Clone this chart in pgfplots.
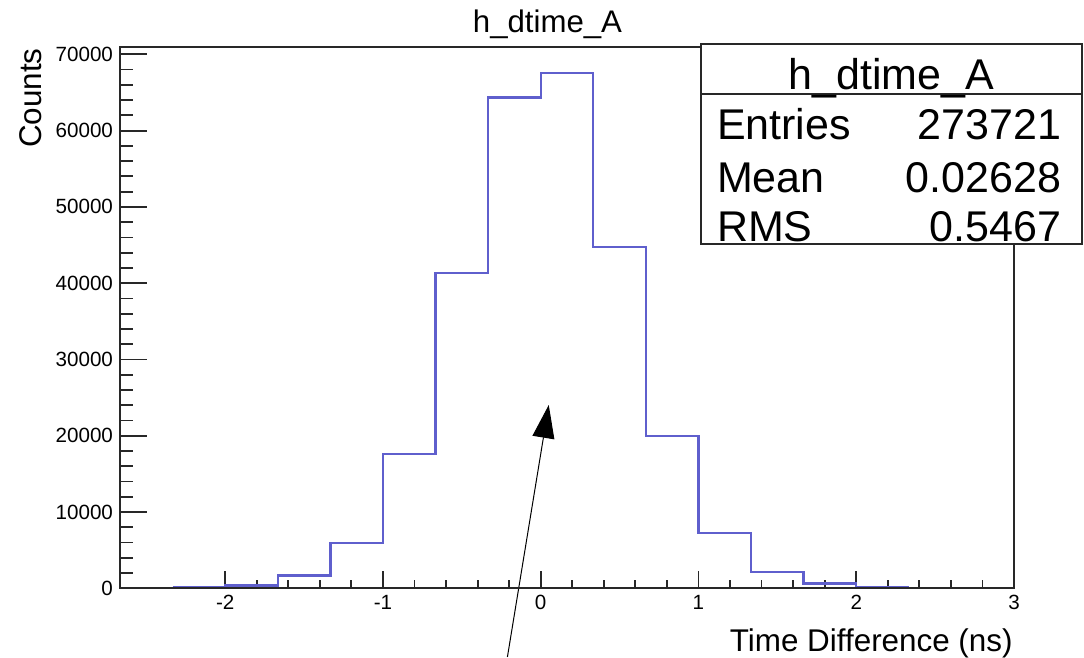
\documentclass[border=0pt]{standalone}
\usepackage{fontspec}
\setmainfont{Liberation Sans}
\usepackage{pgfplots}
\pgfplotsset{compat=1.18}
\usetikzlibrary{arrows.meta}
\definecolor{histblue}{RGB}{95,95,205}
\definecolor{axgray}{RGB}{40,40,40}
\begin{document}
\begin{tikzpicture}
\pgfplotsset{
 rootaxis/.style={
  scale only axis, width=447pt, height=270.8pt,
  at={(0,0)}, anchor=south west,
  xmin=-2.6667, xmax=3, ymin=0, ymax=71000,
  axis line style={line width=0.9pt, axgray},
  tick style={line width=0.9pt, axgray},
  tick align=inside, tick pos=left,
  ticklabel style={font=\fontsize{10.3}{12}\selectfont},
  /pgf/number format/assume math mode=true,
 }
}
\begin{axis}[rootaxis, ytick=\empty, xtick={-2,-1,0,1,2,3}, minor x tick num=4,
  major tick length=8.5pt, minor tick length=4pt, clip=false]
\addplot[const plot mark left, histblue, line width=1.2pt, mark=none] coordinates {
(-2.3333,170) (-2.0,350) (-1.6667,1670) (-1.3333,5940) (-1.0,17600)
(-0.6667,41330) (-0.3333,64360) (0,67585) (0.3333,44740) (0.6667,19960)
(1.0,7250) (1.3333,2140) (1.6667,620) (2.0,170) (2.3333,170)
};
\draw[line width=0.5pt, -{Triangle[length=16.5pt,width=11pt]}] (axis cs:-0.211,-9005) -- (axis cs:0.051,24030);
\end{axis}
\begin{axis}[rootaxis, xtick=\empty, ytick={0,10000,...,70000}, minor y tick num=4,
  major tick length=13.3pt, minor tick length=6.5pt, scaled y ticks=false,
  yticklabel style={/pgf/number format/fixed, /pgf/number format/1000 sep={}}]
\end{axis}
\node[anchor=base, font=\fontsize{15.6}{18}\selectfont, inner sep=0] at (213.75pt,277.65pt) {h\_dtime\_A};
\node[anchor=base east, rotate=90, font=\fontsize{15.7}{18}\selectfont, inner sep=0] at (-39pt,270.15pt) {Counts};
\node[anchor=base east, font=\fontsize{15.7}{18}\selectfont, inner sep=0] at (446.5pt,-31.7pt) {Time Difference (ns)};
\draw[line width=0.8pt, axgray, fill=white] (290.5pt,172.15pt) rectangle (481pt,272.15pt);
\draw[line width=0.8pt, axgray] (290.5pt,247.15pt) -- (481pt,247.15pt);
\begin{scope}[every node/.style={font=\fontsize{21.5}{26}\selectfont, inner sep=0}]
\node[anchor=base] at (385.75pt,249.5pt) {h\_dtime\_A};
\node[anchor=base west] at (298.3pt,224.15pt) {Entries};
\node[anchor=base east] at (470.8pt,224.15pt) {273721};
\node[anchor=base west] at (298.3pt,198pt) {Mean};
\node[anchor=base east] at (470.8pt,198pt) {0.02628};
\node[anchor=base west] at (298.3pt,173.3pt) {RMS};
\node[anchor=base east] at (470.8pt,173.3pt) {0.5467};
\end{scope}
\pgfresetboundingbox
\path[use as bounding box] (-60pt,-34.85pt) rectangle (482pt,294.15pt);
\end{tikzpicture}
\end{document}
